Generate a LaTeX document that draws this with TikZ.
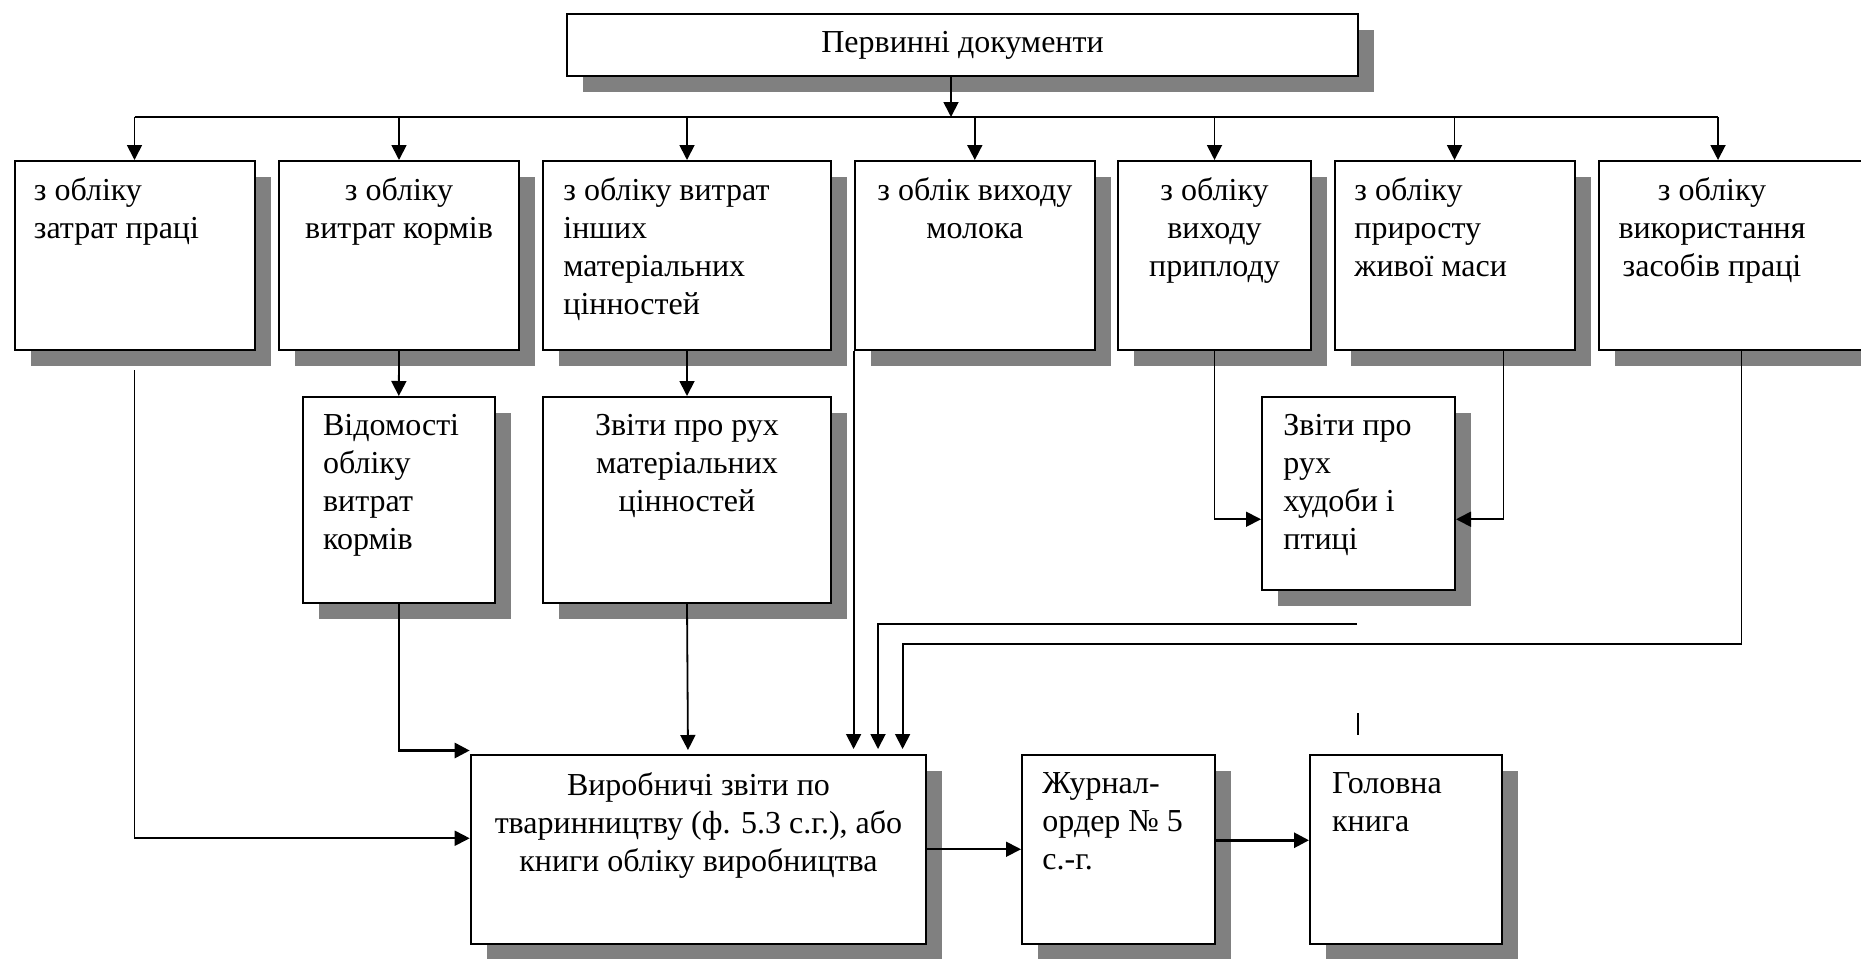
\documentclass[tikz,border=0pt]{standalone}
\usepackage{fontspec}
\setmainfont{Liberation Serif}
\usepackage{tikz}
\usetikzlibrary{arrows.meta, calc, shadows}
\definecolor{shadowgray}{RGB}{128,128,128}
\def\px{0.5pt}
\tikzset{
	docbox/.style 2 args={draw, line width=1pt, fill=white, inner sep=0pt, anchor=north west,
		minimum width=#1, minimum height=#2,
		general shadow={fill=shadowgray, shadow xshift=8pt, shadow yshift=-8pt}},
	txtl/.style={font=\fontsize{16}{19}\selectfont, inner sep=0pt, align=left, anchor=north west},
	txtc/.style={font=\fontsize{16}{19}\selectfont, inner sep=0pt, align=center, anchor=north},
	link/.style={line width=0.9pt, -{Triangle[length=7.5pt, width=7.5pt]}},
	boldlink/.style={link, line width=1.4pt},
}

\begin{document}
\begin{tikzpicture}[x=\px, y=-\px, line cap=butt]

	\clip (0,0) rectangle (1861,958);

	% boxes
	\node[docbox={395.5pt}{31pt}] (top) at (566,13) {};

	\node[docbox={120pt}{94.5pt}] (b1) at (13.5,160) {};
	\node[docbox={120pt}{94.5pt}] (b2) at (278,160) {};
	\node[docbox={144pt}{94.5pt}] (b3) at (542,160) {};
	\node[docbox={120.2pt}{94.5pt}] (b4) at (853.6,160) {};
	\node[docbox={96.5pt}{94.5pt}] (b5) at (1117,160) {};
	\node[docbox={120pt}{94.5pt}] (b6) at (1333.5,160) {};
	\node[docbox={145pt}{94.5pt}] (b7) at (1598,160) {};

	\node[docbox={95.8pt}{103pt}] (ved) at (302,396) {};
	\node[docbox={144pt}{103pt}] (zvm) at (542,396) {};
	\node[docbox={96.5pt}{96.25pt}] (zvh) at (1261,396) {};

	\node[docbox={227.75pt}{94.25pt}] (prod) at (469.7,754) {};
	\node[docbox={96.25pt}{94.25pt}] (jour) at (1021,754) {};
	\node[docbox={96.15pt}{94.25pt}] (gol) at (1309,754) {};

	% texts
	\node[font=\fontsize{16}{19}\selectfont, inner sep=0pt] (toptxt) at (top) {Первинні документи};

	\node[txtl] (t1) at ($(b1.north west)+(20,17)$) {з обліку\\затрат праці};
	\node[txtc] (t2) at ($(b2.north)+(0,17)$) {з обліку\\витрат кормів};
	\node[txtl] (t3) at ($(b3.north west)+(21,17)$) {з обліку витрат\\інших\\матеріальних\\цінностей};
	\node[txtc] (t4) at ($(b4.north)+(0,17)$) {з облік виходу\\молока};
	\node[txtc] (t5) at ($(b5.north)+(0,17)$) {з обліку\\виходу\\приплоду};
	\node[txtl] (t6) at ($(b6.north west)+(20.5,17)$) {з обліку\\приросту\\живої маси};
	\node[txtc] (t7) at ($(b7.north west)+(114,17)$) {з обліку\\використання\\засобів праці};

	\node[txtl] (tved) at ($(ved.north west)+(20.7,18)$) {Відомості\\обліку\\витрат\\кормів};
	\node[txtc] (tzvm) at ($(zvm.north)+(0,18)$) {Звіти про рух\\матеріальних\\цінностей};
	\node[txtl] (tzvh) at ($(zvh.north west)+(22,18)$) {Звіти про\\рух\\худоби і\\птиці};

	\node[txtc] (tprod) at ($(prod.north)+(0,18)$) {Виробничі звіти по\\тваринництву (ф. 5.3 с.г.), або\\книги обліку виробництва};
	\node[txtl] (tjour) at ($(jour.north west)+(21,18)$) {Журнал-\\ордер № 5\\с.-г.};
	\node[txtl] (tgol) at ($(gol.north west)+(22.7,18)$) {Головна\\книга};

	% connectors
	\coordinate (bus) at (0,117);
	\coordinate (topout) at ($(top.south)+(-11.5,0)$);
	\coordinate (b7out) at ($(b7.south west)+(143.5,0)$);
	\coordinate (b7in) at ($(b7.north west)+(120,0)$);

	\draw[link] (topout) -- (topout |- bus);
	\draw[line width=0.9pt] (b1.north |- bus) -- (b7in |- bus);
	\foreach \b in {b1,b2,b3,b4,b5,b6}
		\draw[link] (\b.north |- bus) -- (\b.north);
	\draw[link] (b7in |- bus) -- (b7in);

	\draw[link] (b2.south) -- (ved.north);
	\draw[link] (b3.south) -- (zvm.north);

	\draw[link] (b5.south) |- ($(zvh.west)+(0,26)$);
	\draw[link] ($(b6.south east)+(-72,0)$) |- ($(zvh.east)+(0,26)$);

	\coordinate (vedin) at ($(prod.north west)+(0,-3.5)$);
	\draw[line width=0.9pt] (ved.south) -- (ved.south |- vedin);
	\draw[boldlink] ($(ved.south |- vedin)+(-0.5,0)$) -- (vedin);
	\draw[link, shorten >=2pt] (zvm.south) -- ($(zvm.south |- prod.north)+(1,0)$);
	\draw[link] ($(b1.south)+(0,19)$) |- ($(prod.west)+(0,-11)$);
	\draw[link, shorten >=2.5pt] (b4.south west) -- (b4.south west |- prod.north);

	\coordinate (loose) at (1357,624);
	\coordinate (hop) at (878,624);
	\draw[link, shorten >=2.5pt] (loose) -- (hop) -- (hop |- prod.north);
	\draw[line width=0.9pt] (1358,713) coordinate (tick) -- ++(0,22);

	\coordinate (hop2) at (902.6,644);
	\draw[link, shorten >=2.5pt] (b7out) |- (hop2) -- (hop2 |- prod.north);

	\draw[link] (prod.east) -- (prod.east -| jour.west);
	\draw[boldlink] ($(jour.east)+(0,-9)$) -- ($(gol.west)+(0,-9)$);

\end{tikzpicture}
\end{document}
